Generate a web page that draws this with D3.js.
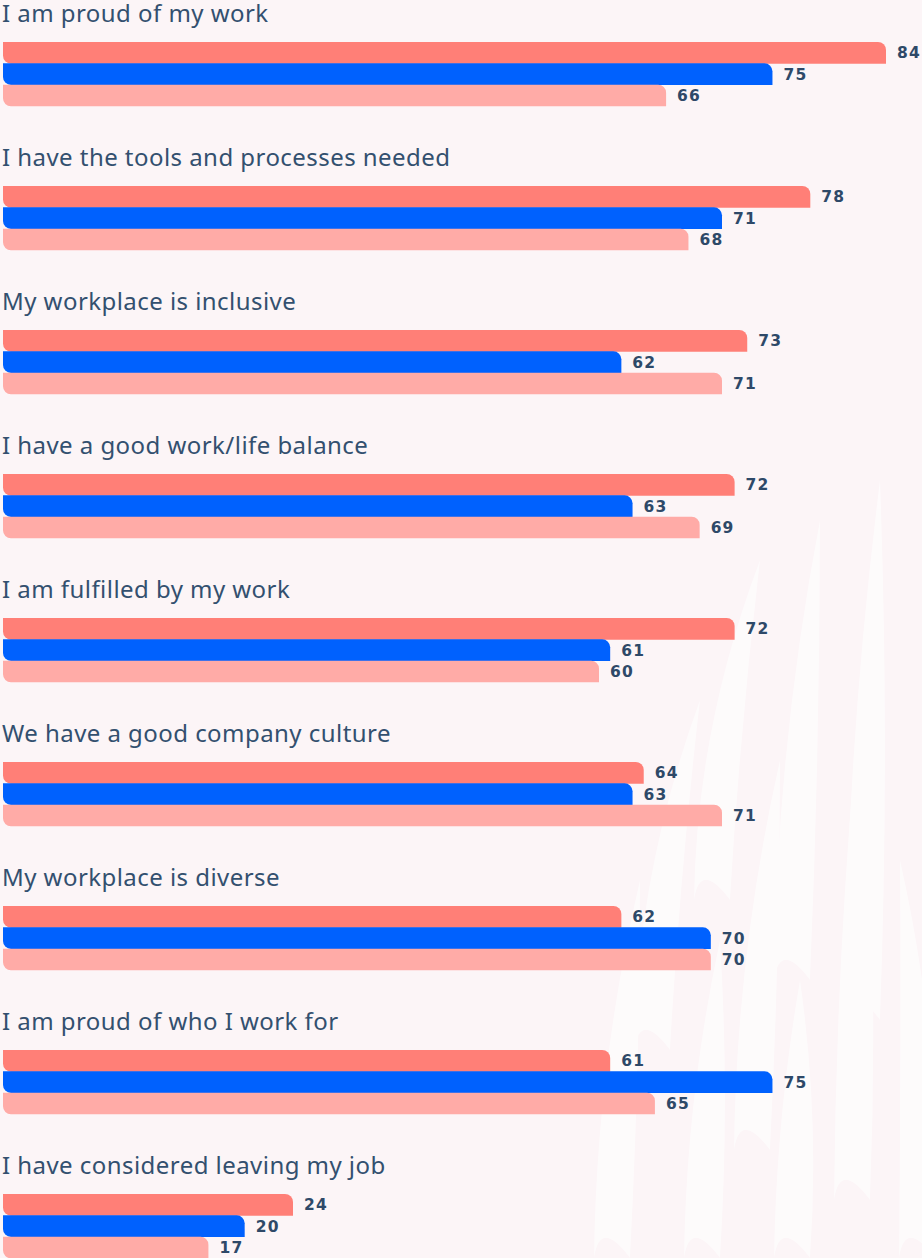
<!DOCTYPE html>
<html>
<head>
<meta charset="utf-8">
<script src="https://cdn.jsdelivr.net/npm/d3@7"></script>
<style>
  html, body { margin: 0; padding: 0; background: #fcf5f7; }
  svg { display: block; }
  .cat { font-family: "Noto Sans", sans-serif; font-size: 24px; fill: #33506f; letter-spacing: 0.45px; }
  .val { font-family: "DejaVu Sans", sans-serif; font-weight: bold; font-size: 15.5px; fill: #2e4968; letter-spacing: 1.2px; }
</style>
</head>
<body>
<svg id="chart"></svg>
<script>
// categories, top to bottom
const categories = [
  "I am proud of my work",
  "I have the tools and processes needed",
  "My workplace is inclusive",
  "I have a good work/life balance",
  "I am fulfilled by my work",
  "We have a good company culture",
  "My workplace is diverse",
  "I am proud of who I work for",
  "I have considered leaving my job"
];
const seriesA = [84, 78, 73, 72, 72, 64, 62, 61, 24]; // coral
const seriesB = [75, 71, 62, 63, 61, 63, 70, 75, 20]; // blue
const seriesC = [66, 68, 71, 69, 60, 71, 70, 65, 17]; // light pink
const seriesColors = ["#ff7f77", "#0061fe", "#ffaba7"];

const width = 922, height = 1258;
const svg = d3.select("#chart").attr("width", width).attr("height", height);

// background feathers (decoration only)
const deco = svg.append("g").attr("fill", "#ffffff").attr("opacity", 0.6);
const feathers = [
  [760, 560, 700, 900], [820, 520, 780, 980], [880, 480, 850, 1020],
  [700, 700, 640, 1050], [780, 760, 740, 1150], [860, 700, 840, 1200],
  [640, 880, 600, 1258], [720, 940, 690, 1258], [800, 980, 780, 1258],
  [900, 860, 905, 1258]
];
feathers.forEach(([tx, ty, bx, by]) => {
  const p = d3.path();
  p.moveTo(tx, ty);
  p.quadraticCurveTo(bx + 40, (ty + by) / 2, bx + 30, by);
  p.quadraticCurveTo(bx, by - 40, bx - 6, by);
  p.quadraticCurveTo(bx - 4, (ty + by) / 2, tx, ty);
  p.closePath();
  deco.append("path").attr("d", p.toString());
});

// the bar lengths in the picture are not proportional, so the scale is polylinear
const x = d3.scaleLinear()
  .domain([0, 24, 60, 71, 84])
  .range([3, 293, 599, 722, 886]);

const groupY = d3.scalePoint()
  .domain(categories)
  .range([42, 42 + 144 * (categories.length - 1)]);

const barY = d3.scaleBand()
  .domain([0, 1, 2])
  .range([0, 64])
  .padding(0);

const r = 8;
function barPath(x0, x1, y0, h) {
  const y1 = y0 + h;
  const p = d3.path();
  p.moveTo(x0, y0);
  p.lineTo(x1 - r, y0);
  p.arcTo(x1, y0, x1, y0 + r, r);
  p.lineTo(x1, y1);
  p.lineTo(x0 + r, y1);
  p.arcTo(x0, y1, x0, y1 - r, r);
  p.closePath();
  return p.toString();
}

const rows = categories.map((c, i) => ({
  cat: c,
  vals: [seriesA[i], seriesB[i], seriesC[i]]
}));

const g = svg.selectAll(".group")
  .data(rows)
  .join("g")
  .attr("class", "group")
  .attr("transform", d => `translate(0,${groupY(d.cat)})`);

g.append("text")
  .attr("class", "cat")
  .attr("x", 2)
  .attr("y", -20)
  .text(d => d.cat);

g.selectAll(".bar")
  .data(d => d.vals.map((v, k) => ({ v, k })))
  .join("path")
  .attr("class", "bar")
  .attr("fill", d => seriesColors[d.k])
  .attr("d", d => barPath(x(0), x(d.v), barY(d.k), barY.bandwidth() + 0.3));

g.selectAll(".val")
  .data(d => d.vals.map((v, k) => ({ v, k })))
  .join("text")
  .attr("class", "val")
  .attr("x", d => x(d.v) + 11)
  .attr("y", d => barY(d.k) + barY.bandwidth() / 2 + 5.5)
  .text(d => d.v);
</script>
</body>
</html>
